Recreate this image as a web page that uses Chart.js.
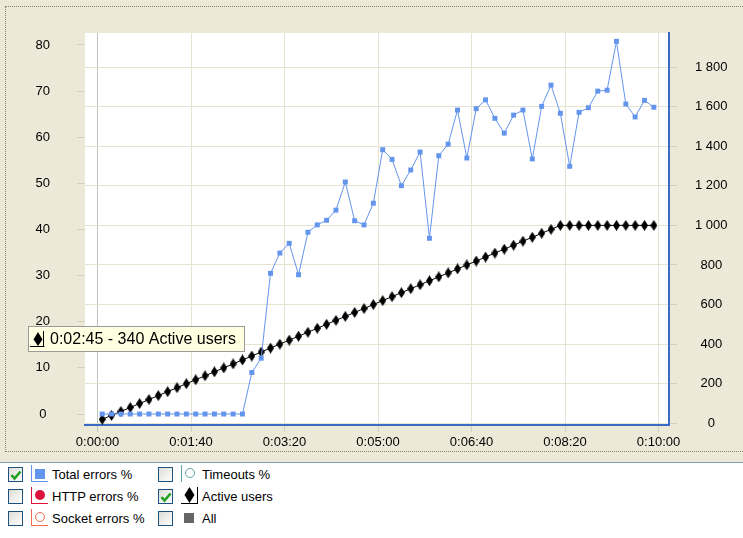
<!DOCTYPE html>
<html>
<head>
<meta charset="utf-8">
<script src="https://cdn.jsdelivr.net/npm/chart.js@4.4.1/dist/chart.umd.min.js"></script>
<style>
  html, body { margin: 0; padding: 0; }
  body { width: 743px; height: 538px; background: #ECE9D8; position: relative; overflow: hidden;
         font-family: "Liberation Sans", Arial, sans-serif; }
  #frame { position: absolute; left: 5px; top: 6px; width: 760px; height: 444px; border: 1px dotted #8a866c; }
  #wrap { position: absolute; left: 0; top: 0; width: 743px; height: 452px; }
  #legend { position: absolute; left: 0; top: 462px; width: 743px; height: 76px; background: #fff; border-top: 1px solid #7F9DB9; }
  .cb { position: absolute; width: 13px; height: 13px; border: 1px solid #1C5180;
        background: linear-gradient(135deg, #DCDCD7, #FFFFFF); }
  .cb svg { position: absolute; left: 0; top: 0; }
  .ico { position: absolute; width: 17px; height: 17px; box-sizing: border-box; }
  .lbl { position: absolute; font-size: 13px; line-height: 16px; color: #000; white-space: nowrap; }
</style>
</head>
<body>
<div id="frame"></div>
<div id="wrap"><canvas id="grafico" width="743" height="452"></canvas></div>

<div id="legend"></div>

<script>
// tempo (s), erros totais (%) e usuarios ativos, um ponto a cada 10 s
const times = [5, 15, 25, 35, 45, 55, 65, 75, 85, 95, 105, 115, 125, 135, 145, 155,
  165, 175, 185, 195, 205, 215, 225, 235, 245, 255, 265, 275, 285, 295, 305, 315,
  325, 335, 345, 355, 365, 375, 385, 395, 405, 415, 425, 435, 445, 455, 465, 475,
  485, 495, 505, 515, 525, 535, 545, 555, 565, 575, 585, 595];
const totalErrors = [0, 0, 0, 0, 0, 0, 0, 0, 0, 0, 0, 0, 0, 0, 0, 0,
  9.0, 12.1, 30.5, 34.9, 37.0, 30.2, 39.4, 41.0, 42.0, 44.2, 50.3, 41.9, 41.0, 45.7, 57.3, 55.2,
  49.5, 52.9, 56.8, 38.1, 56.0, 58.5, 65.9, 55.5, 66.2, 68.1, 64.1, 60.9, 64.8, 65.9, 55.3, 66.7,
  71.3, 65.2, 53.7, 65.4, 66.4, 70.0, 70.2, 80.8, 67.2, 64.4, 68.0, 66.5];
const activeUsers = [20, 40, 60, 80, 100, 120, 140, 160, 180, 200, 220, 240, 260, 280, 300, 320,
  340, 360, 380, 400, 420, 440, 460, 480, 500, 520, 540, 560, 580, 600, 620, 640,
  660, 680, 700, 720, 740, 760, 780, 800, 820, 840, 860, 880, 900, 920, 940, 960,
  980, 1000, 1000, 1000, 1000, 1000, 1000, 1000, 1000, 1000, 1000, 1000];

const leftTicks = [0, 10, 20, 30, 40, 50, 60, 70, 80];
const rightTicks = [0, 200, 400, 600, 800, 1000, 1200, 1400, 1600, 1800];
const xTicks = [0, 100, 200, 300, 400, 500, 600];
const xTickLabels = ['0:00:00', '0:01:40', '0:03:20', '0:05:00', '0:06:40', '0:08:20', '0:10:00'];
const tipTime = 165;

const fonte = '"Liberation Sans", Arial, sans-serif';
Chart.defaults.font.family = fonte;
Chart.defaults.font.size = 13;
Chart.defaults.color = '#000';

function formatarTempo(s) {
    const h = Math.floor(s / 3600);
    const m = Math.floor((s % 3600) / 60);
    const ss = s % 60;
    return h + ':' + String(m).padStart(2, '0') + ':' + String(ss).padStart(2, '0');
}

function formatarMilhar(v) {
    if (v < 1000) return String(v);
    return Math.floor(v / 1000) + ' ' + String(v % 1000).padStart(3, '0');
}

function criarLosango(w, h) {
    const c = document.createElement('canvas');
    c.width = w; c.height = h;
    const g = c.getContext('2d');
    g.fillStyle = '#000';
    g.beginPath();
    g.moveTo(w / 2, 0);
    g.lineTo(w, h / 2);
    g.lineTo(w / 2, h);
    g.lineTo(0, h / 2);
    g.closePath();
    g.fill();
    return c;
}

const fundoArea = {
    id: 'fundoArea',
    beforeDraw(chart) {
        const { ctx, chartArea: a } = chart;
        ctx.save();
        ctx.fillStyle = '#fff';
        ctx.fillRect(a.left, a.top, a.right - a.left, a.bottom - a.top);
        ctx.restore();
    }
};

// caixa amarela de dica no ponto de 0:02:45
const dica = {
    id: 'dica',
    afterDraw(chart) {
        const i = times.indexOf(tipTime);
        const p = chart.getDatasetMeta(1).data[i];
        if (!p) return;
        const ctx = chart.ctx;
        const texto = formatarTempo(times[i]) + ' - ' + activeUsers[i] + ' Active users';
        ctx.save();
        ctx.font = '16px ' + fonte;
        const tw = ctx.measureText(texto).width;
        const h = 26;
        const w = Math.round(22 + tw + 9);
        const right = Math.round(p.x - 7);
        const bottom = Math.round(p.y - 4);
        const L = right - w, T = bottom - h;
        ctx.fillStyle = '#FFFFE1';
        ctx.fillRect(L, T, w, h);
        ctx.strokeStyle = '#9a9a9a';
        ctx.lineWidth = 1;
        ctx.strokeRect(L + 0.5, T + 0.5, w - 1, h - 1);
        // icone
        ctx.fillStyle = '#000';
        ctx.beginPath();
        ctx.moveTo(L + 10, T + 6);
        ctx.lineTo(L + 14.5, T + 13.5);
        ctx.lineTo(L + 10, T + 20);
        ctx.lineTo(L + 5.5, T + 13.5);
        ctx.closePath();
        ctx.fill();
        ctx.strokeStyle = '#000';
        ctx.beginPath();
        ctx.moveTo(L + 2, T + 20.5);
        ctx.lineTo(L + 16.5, T + 20.5);
        ctx.moveTo(L + 15.5, T + 5);
        ctx.lineTo(L + 15.5, T + 21);
        ctx.stroke();
        ctx.fillStyle = '#000';
        ctx.textBaseline = 'middle';
        ctx.fillText(texto, L + 22, T + 13.5);
        ctx.restore();
    }
};

const azul = '#6495ED';
const eixoAzul = '#3A6BC4';
const grade = '#E6E3D3';
const tracinho = '#D4D0C0';

new Chart(document.getElementById('grafico'), {
    type: 'line',
    data: {
        datasets: [{
            label: 'Total errors %',
            data: times.map((t, i) => ({ x: t, y: totalErrors[i] })),
            yAxisID: 'yL',
            borderColor: azul,
            backgroundColor: azul,
            borderWidth: 1,
            pointStyle: 'rect',
            pointRadius: 3.5,
            pointBorderWidth: 0,
            tension: 0,
            order: 0
        }, {
            label: 'Active users',
            data: times.map((t, i) => ({ x: t, y: activeUsers[i] })),
            yAxisID: 'yR',
            borderColor: '#000',
            backgroundColor: '#000',
            borderWidth: 1,
            pointStyle: criarLosango(7, 11),
            tension: 0,
            order: 1
        }]
    },
    options: {
        responsive: false,
        animation: false,
        events: [],
        layout: { padding: { top: 33, left: 0, right: 0, bottom: 0 } },
        plugins: { legend: { display: false }, tooltip: { enabled: false } },
        scales: {
            x: {
                type: 'linear',
                min: -13.4,
                max: 611.2,
                afterBuildTicks: s => { s.ticks = xTicks.map(v => ({ value: v })); },
                afterFit: s => { s.height = 27; s.paddingLeft = 0; s.paddingRight = 0; },
                ticks: {
                    autoSkip: false,
                    maxRotation: 0,
                    padding: 3,
                    callback: (v, i) => xTickLabels[i]
                },
                grid: {
                    color: c => c.index === 0 ? '#BCC4BC' : grade,
                    tickColor: c => c.index === 0 ? '#BCC4BC' : tracinho,
                    tickLength: 7
                },
                border: { color: eixoAzul, width: 2 }
            },
            yL: {
                position: 'left',
                min: -2.38,
                max: 82.6,
                afterBuildTicks: s => { s.ticks = leftTicks.map(v => ({ value: v })); },
                afterFit: s => { s.width = 85; s.paddingTop = 0; s.paddingBottom = 0; },
                ticks: { padding: 27, crossAlign: 'center' },
                grid: { drawOnChartArea: false, tickLength: 8, tickColor: tracinho },
                border: { display: false }
            },
            yR: {
                position: 'right',
                min: -8.6,
                max: 1972,
                afterBuildTicks: s => { s.ticks = rightTicks.map(v => ({ value: v })); },
                afterFit: s => { s.width = 74; s.paddingTop = 0; s.paddingBottom = 0; },
                ticks: { padding: 18, crossAlign: 'center', callback: v => formatarMilhar(v) },
                grid: { color: grade, tickLength: 8, tickColor: tracinho },
                border: { color: eixoAzul, width: 2 }
            }
        }
    },
    plugins: [fundoArea, dica]
});

// legenda com caixas de selecao
const itensLegenda = [
    { nome: 'Total errors %', marcado: true, col: 0, lin: 0, tipo: 'quadrado', cor: azul, linhas: 'lb' },
    { nome: 'HTTP errors %', marcado: false, col: 0, lin: 1, tipo: 'circulo', cor: '#DC143C', linhas: 'lb' },
    { nome: 'Socket errors %', marcado: false, col: 0, lin: 2, tipo: 'anel', cor: '#F26A4F', linhas: 'lb' },
    { nome: 'Timeouts %', marcado: false, col: 1, lin: 0, tipo: 'anel', cor: '#5FA3A8', linhas: 'l' },
    { nome: 'Active users', marcado: true, col: 1, lin: 1, tipo: 'losango', cor: '#000', linhas: 'rb' },
    { nome: 'All', marcado: false, col: 1, lin: 2, tipo: 'quadrado', cor: '#666', linhas: '' }
];

const legenda = document.getElementById('legend');
const checkSvg = '<svg width="13" height="13"><polyline points="2.5,7 5.5,10.5 11.5,3.5" fill="none" stroke="#21A121" stroke-width="2.6"/></svg>';

itensLegenda.forEach(it => {
    const x0 = it.col === 0 ? 8 : 158;
    const y0 = 4 + it.lin * 22;   // relativo ao painel (topo em 463)

    const cb = document.createElement('div');
    cb.className = 'cb';
    cb.style.left = x0 + 'px';
    cb.style.top = y0 + 'px';
    if (it.marcado) cb.innerHTML = checkSvg;
    legenda.appendChild(cb);

    const ico = document.createElement('div');
    ico.className = 'ico';
    ico.style.left = (x0 + 23) + 'px';
    ico.style.top = (y0 - 2) + 'px';
    if (it.linhas.includes('l')) ico.style.borderLeft = '1px solid ' + it.cor;
    if (it.linhas.includes('r')) ico.style.borderRight = '1px solid ' + it.cor;
    if (it.linhas.includes('b')) ico.style.borderBottom = '1px solid ' + it.cor;
    const m = document.createElement('div');
    m.style.position = 'absolute';
    if (it.tipo === 'quadrado') {
        Object.assign(m.style, { left: '3px', top: '4px', width: '10px', height: '10px', background: it.cor });
    } else if (it.tipo === 'circulo') {
        Object.assign(m.style, { left: '3px', top: '3px', width: '10px', height: '10px', borderRadius: '50%', background: it.cor });
    } else if (it.tipo === 'anel') {
        Object.assign(m.style, { left: '3px', top: '3px', width: '8px', height: '8px', borderRadius: '50%', border: '1px solid ' + it.cor });
    } else if (it.tipo === 'losango') {
        Object.assign(m.style, { left: '3px', top: '0px' });
        m.innerHTML = '<svg width="11" height="16"><polygon points="5.5,0 10.5,8 5.5,16 0.5,8" fill="#000"/></svg>';
    }
    ico.appendChild(m);
    legenda.appendChild(ico);

    const lbl = document.createElement('div');
    lbl.className = 'lbl';
    lbl.style.left = (x0 + 44) + 'px';
    lbl.style.top = (y0 - 0.5) + 'px';
    lbl.textContent = it.nome;
    legenda.appendChild(lbl);
});
</script>
</body>
</html>
